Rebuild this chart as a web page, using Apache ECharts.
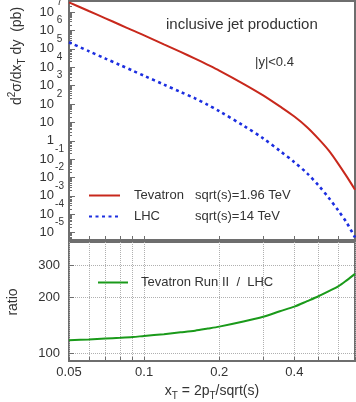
<!DOCTYPE html>
<html>
<head>
<meta charset="utf-8">
<script src="https://cdn.jsdelivr.net/npm/echarts@6/dist/echarts.min.js"></script>
<style>
  html, body { margin: 0; padding: 0; background: #fff; }
  #chart { width: 356px; height: 402px; }
</style>
</head>
<body>
<div id="chart"></div>
<script>
// x_T sample points
const xT = [0.05, 0.06, 0.07, 0.08, 0.09, 0.1, 0.12, 0.14, 0.16, 0.18, 0.2,
            0.25, 0.3, 0.35, 0.4, 0.45, 0.5, 0.55, 0.6, 0.65, 0.7];
// d2sigma/dxT dy (pb)
const tevatron = [3.38e7, 1.14e7, 4.56e6, 2.05e6, 1.01e6, 5.42e5, 1.75e5, 6.78e4, 2.93e4, 1.35e4, 6.59e3,
                  1.26e3, 295, 73.5, 20.7, 5.42, 1.26, 0.289, 0.0555, 0.0108, 2.18e-3];
const lhc = [2.28e5, 7.49e4, 2.95e4, 1.32e4, 6.49e3, 3.43e3, 1.14e3, 451, 202, 89.8, 40.7,
             6.70, 1.35, 0.282, 0.0686, 0.0169, 3.73e-3, 7.69e-4, 1.59e-4, 3.29e-5, 5.47e-6];
// Tevatron Run II / LHC
const ratio = [117.8, 119, 120.3, 121.4, 122.6, 124.3, 127.1, 130, 132.7, 136.2, 139.6,
               148.7, 157.8, 169, 179, 191.5, 203.7, 217, 230.5, 249, 269];

// axis ticks / labels
const xTicks = [0.05, 0.06, 0.07, 0.08, 0.09, 0.1, 0.2, 0.3, 0.4, 0.5, 0.6, 0.7];
const xLabels = [0.05, 0.1, 0.2, 0.4];
const decadeExps = [-5, -4, -3, -2, -1, 0, 1, 2, 3, 4, 5, 6, 7];
const ratioTicks = [100, 200, 300];

const energies = { 'Tevatron': 'sqrt(s)=1.96 TeV', 'LHC': 'sqrt(s)=14 TeV' };

const font = 'Liberation Sans, Arial, Helvetica, sans-serif';
const textColor = '#333';
const frameColor = '#6e6e6e';
const gridColor = '#b0b0b0';

const decades = decadeExps.map((e) => Math.pow(10, e));
// labels split over two overlaid axes so the tall (superscript) labels never collide
const oddDecades = decadeExps.filter((e) => Math.abs(e) % 2 === 1).map((e) => Math.pow(10, e));
const evenDecades = decadeExps.filter((e) => e % 2 === 0).map((e) => Math.pow(10, e));
const minorTicks = [];
for (let k = -6; k <= 7; k++) {
  for (let m = 2; m <= 9; m++) {
    const v = m * Math.pow(10, k);
    if (v > 4e-6 && v < 4e7) minorTicks.push(v);
  }
}

const decadeLabel = (v) => {
  const e = Math.round(Math.log10(v));
  if (e === 0) return '{b|1}{e| }';
  if (e === 1) return '{b|10}{e| }';
  return '{b|10}{e|' + e + '}';
};

const decadeRich = {
  b: { fontSize: 13, lineHeight: 30, color: textColor, fontFamily: font },
  e: { fontSize: 10, lineHeight: 14, verticalAlign: 'top', width: 11, align: 'left',
       color: textColor, fontFamily: font }
};

const subRich = {
  t: { fontSize: 14, lineHeight: 20, color: textColor, fontFamily: font },
  sup: { fontSize: 10, lineHeight: 10, verticalAlign: 'top', color: textColor, fontFamily: font },
  sub: { fontSize: 10, lineHeight: 10, verticalAlign: 'bottom', color: textColor, fontFamily: font }
};

// hide the legend marker, keep only the line sample
const noMarker = { color: 'transparent', borderWidth: 0, opacity: 0 };

const chart = echarts.init(document.getElementById('chart'), null, { renderer: 'canvas' });

const option = {
  animation: false,
  textStyle: { fontFamily: font },
  title: [
    { text: 'inclusive jet production', left: 161, top: 12,
      textStyle: { fontSize: 15, fontWeight: 'normal', color: textColor, fontFamily: font } },
    { text: '|y|<0.4', left: 250, top: 51,
      textStyle: { fontSize: 13, fontWeight: 'normal', color: textColor, fontFamily: font } }
  ],
  grid: [
    { left: 69, top: 1, width: 286, height: 239, show: true, borderColor: frameColor, borderWidth: 2,
      outerBoundsMode: 'none' },
    { left: 69, top: 242, width: 286, height: 119, show: true, borderColor: frameColor, borderWidth: 2,
      outerBoundsMode: 'none' }
  ],
  legend: [
    {
      data: ['Tevatron', 'LHC'],
      orient: 'vertical', left: 88, top: 189, padding: 0,
      itemWidth: 31, itemHeight: 12, itemGap: 8, selectedMode: false,
      itemStyle: noMarker,
      formatter: (name) => '{n|' + name + '}{e|' + energies[name] + '}',
      textStyle: {
        color: textColor, fontSize: 13,
        rich: {
          n: { width: 61, padding: [0, 0, 0, 9], fontSize: 13, color: textColor, fontFamily: font },
          e: { fontSize: 13, color: textColor, fontFamily: font }
        }
      }
    },
    {
      data: ['Tevatron Run II  /  LHC'],
      left: 97, top: 276, padding: 0,
      itemWidth: 30, itemHeight: 12, selectedMode: false,
      itemStyle: noMarker,
      textStyle: { color: textColor, fontSize: 13, padding: [0, 0, 0, 8] }
    }
  ],
  xAxis: [
    {
      gridIndex: 0, type: 'log', min: 0.05, max: 0.7, position: 'bottom',
      axisLine: { show: false },
      axisTick: { inside: true, length: 4, customValues: xTicks, lineStyle: { color: frameColor } },
      axisLabel: { show: false },
      splitLine: { show: false }
    },
    {
      gridIndex: 1, type: 'log', min: 0.05, max: 0.7, position: 'bottom',
      axisLine: { show: false },
      axisTick: { inside: true, length: 4, customValues: xTicks, lineStyle: { color: frameColor } },
      axisLabel: {
        customValues: xLabels, margin: 5, fontSize: 13, color: textColor,
        showMinLabel: true, showMaxLabel: true,
        formatter: (v) => String(+v.toPrecision(3))
      },
      splitLine: { show: true, lineStyle: { type: 'dotted', color: gridColor, width: 1 } }
    }
  ],
  yAxis: [
    {
      gridIndex: 0, type: 'log', min: 4e-6, max: 4e7, position: 'left',
      axisLine: { show: false },
      axisTick: { inside: true, length: 6, customValues: decades, lineStyle: { color: frameColor } },
      axisLabel: {
        customValues: oddDecades, margin: 4, formatter: decadeLabel,
        showMinLabel: true, showMaxLabel: true, rich: decadeRich
      },
      splitLine: { show: false }
    },
    {
      gridIndex: 0, type: 'log', min: 4e-6, max: 4e7, position: 'left', offset: 0,
      axisLine: { show: false },
      axisTick: { inside: true, length: 3, customValues: minorTicks, lineStyle: { color: frameColor } },
      axisLabel: {
        customValues: evenDecades, margin: 4, formatter: decadeLabel,
        showMinLabel: true, showMaxLabel: true, rich: decadeRich
      },
      splitLine: { show: false }
    },
    {
      gridIndex: 1, type: 'log', min: 91, max: 400, position: 'left',
      axisLine: { show: false },
      axisTick: { inside: true, length: 5, customValues: ratioTicks, lineStyle: { color: frameColor } },
      axisLabel: { customValues: ratioTicks, margin: 9, fontSize: 13, color: textColor,
                   showMinLabel: true, showMaxLabel: true },
      splitLine: { show: true, lineStyle: { type: 'dotted', color: gridColor, width: 1 } }
    }
  ],
  series: [
    {
      name: 'Tevatron', type: 'line', xAxisIndex: 0, yAxisIndex: 0,
      data: xT.map((x, i) => [x, tevatron[i]]),
      symbol: 'none', smooth: 0.3,
      itemStyle: { color: '#c8281c' },
      lineStyle: { color: '#c8281c', width: 2 }
    },
    {
      name: 'LHC', type: 'line', xAxisIndex: 0, yAxisIndex: 0,
      data: xT.map((x, i) => [x, lhc[i]]),
      symbol: 'none', smooth: 0.3,
      itemStyle: { color: '#1c2ee0' },
      lineStyle: { color: '#1c2ee0', width: 2.6, type: [3, 3.5] }
    },
    {
      name: 'Tevatron Run II  /  LHC', type: 'line', xAxisIndex: 1, yAxisIndex: 2,
      data: xT.map((x, i) => [x, ratio[i]]),
      symbol: 'none', smooth: 0.3,
      itemStyle: { color: '#1a9a1a' },
      lineStyle: { color: '#1a9a1a', width: 2 }
    }
  ],
  graphic: [
    {
      type: 'text', x: 17, y: 56, rotation: Math.PI / 2,
      style: {
        text: '{t|d}{sup|2}{t|σ/dx}{sub|T}{t| dy  (pb)}',
        rich: subRich, align: 'center', verticalAlign: 'middle', fill: textColor
      }
    },
    {
      type: 'text', x: 13, y: 302, rotation: Math.PI / 2,
      style: {
        text: 'ratio', fontSize: 14, fontFamily: font,
        align: 'center', verticalAlign: 'middle', fill: textColor
      }
    },
    {
      type: 'text', x: 212, y: 391,
      style: {
        text: '{t|x}{sub|T}{t| = 2p}{sub|T}{t|/sqrt(s)}',
        rich: subRich, align: 'center', verticalAlign: 'middle', fill: textColor
      }
    }
  ]
};

chart.setOption(option);
</script>
</body>
</html>
